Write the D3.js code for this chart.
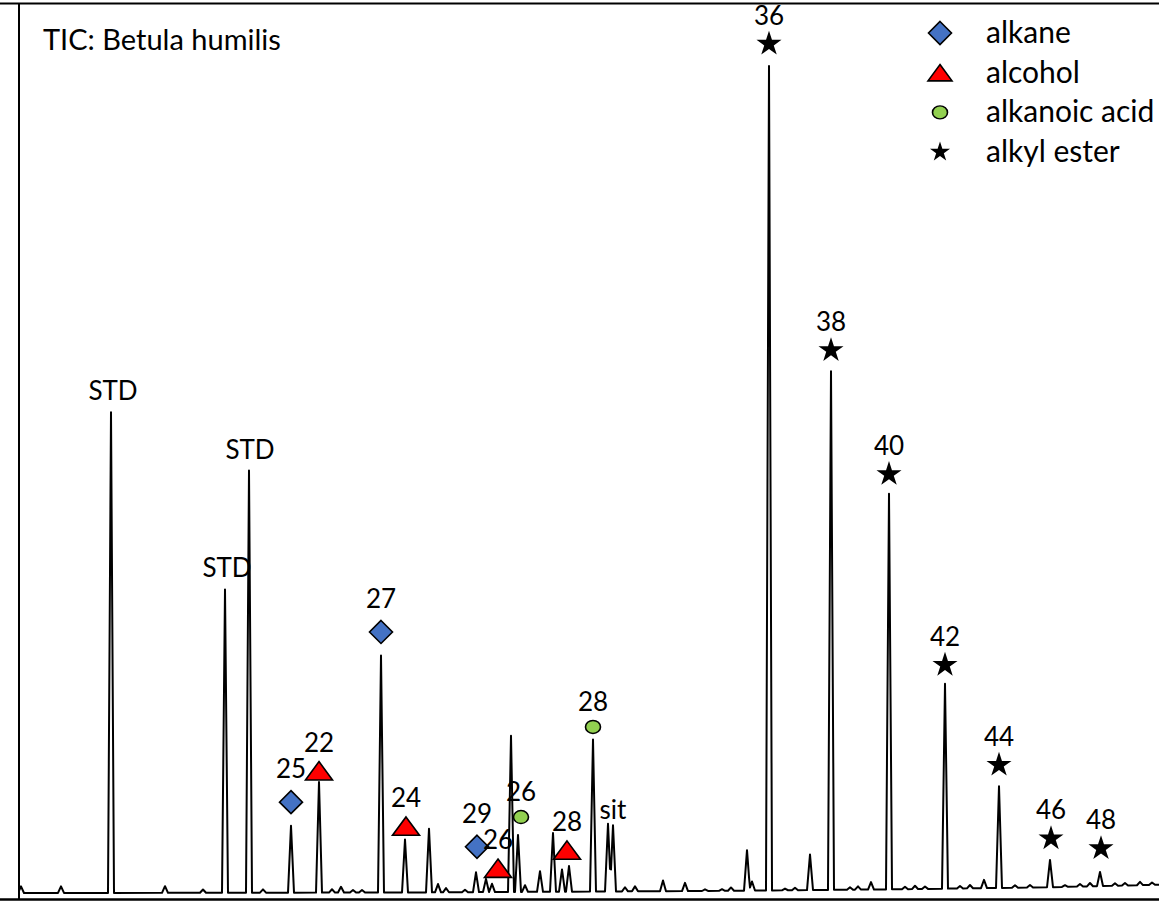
<!DOCTYPE html>
<html>
<head>
<meta charset="utf-8">
<script src="https://cdn.jsdelivr.net/npm/d3@7"></script>
<style>
  body { margin: 0; background: #fff; }
  text { font-family: Lato, "Open Sans", sans-serif; fill: #000; }
</style>
</head>
<body>
<script>
// chromatogram peaks: retention position (scan) and height (% of largest peak)
var peakPos    = [21, 61, 111, 165, 203, 225, 249, 263, 291, 319, 332, 341, 353, 362, 381, 405, 429, 438, 446, 465,
                  476, 486, 492, 511, 518, 525, 540, 553, 562, 569, 593, 608, 613, 625, 635, 663, 685, 705, 722, 731,
                  747, 752, 769, 785, 795, 810, 831, 850, 858, 871, 889, 905, 915, 925, 945, 960, 970, 984, 999, 1015,
                  1030, 1050, 1065, 1080, 1090, 1100, 1115, 1125, 1140, 1152];
var peakHeight = [0.8, 0.8, 58.2, 0.8, 0.4, 36.7, 51.1, 0.4, 8.1, 13.4, 0.4, 0.7, 0.3, 0.3, 28.7, 6.4, 7.7, 1.0, 0.5, 0.3,
                  2.4, 1.6, 1.0, 18.9, 6.9, 0.8, 2.5, 7.1, 2.7, 3.1, 18.4, 8.2, 8.0, 0.5, 0.6, 1.3, 1.0, 0.2, 0.2, 0.4,
                  4.9, 1.1, 99.8, 0.2, 0.3, 4.3, 62.8, 0.3, 0.4, 0.9, 47.9, 0.3, 0.4, 0.3, 24.8, 0.3, 0.4, 1.0, 12.3, 0.3,
                  0.3, 3.3, 0.2, 0.3, 0.4, 1.7, 0.3, 0.3, 0.4, 0.3];

// slow baseline drift
var baselinePos   = [19, 400, 700, 900, 1050, 1159];
var baselineLevel = [0, 0.06, 0.24, 0.45, 0.7, 1.0];

// compound annotations (marker centre in data units)
var annText  = ["36", "38", "40", "42", "44", "46", "48", "25", "27", "29", "22", "24", "26", "28", "26", "28",
                "STD", "STD", "STD", "sit"];
var annClass = ["ester", "ester", "ester", "ester", "ester", "ester", "ester", "alkane", "alkane", "alkane",
                "alcohol", "alcohol", "alcohol", "alcohol", "acid", "acid", "none", "none", "none", "none"];
var annX     = [769, 831, 889, 945, 999, 1051, 1101, 291, 381, 477, 319, 406, 498, 567, 521, 593, 113, 250, 227, 613];
var annY     = [102.8, 65.7, 50.7, 27.6, 15.5, 6.6, 5.4, 11.0, 31.6, 5.6, 14.8, 8.1, 3.0, 5.2, 9.2, 20.1,
                59.7, 52.5, 38.3, 9.0];

var legendKeys  = ["alkane", "alcohol", "acid", "ester"];
var legendNames = ["alkane", "alcohol", "alkanoic acid", "alkyl ester"];

var width = 1159;
var height = 906;
var halfWidth = 3;

var x = d3.scaleLinear().domain([0, 1159]).range([0, 1159]);
var y = d3.scaleLinear().domain([0, 100]).range([893, 67]);

var fills = {alkane: "#4472C4", alcohol: "#FF0000", acid: "#92D050", ester: "#000000"};
var labelGap = {alkane: 24, alcohol: 19, acid: 16, ester: 19, none: 0};

// marker shapes, size = width in px
var diamondType = {draw: function(ctx, s) {
    var r = s / 2;
    ctx.moveTo(0, -r); ctx.lineTo(r, 0); ctx.lineTo(0, r); ctx.lineTo(-r, 0); ctx.closePath();
}};
var triangleType = {draw: function(ctx, s) {
    var h = s * 0.68;
    ctx.moveTo(0, -h / 2); ctx.lineTo(s / 2, h / 2); ctx.lineTo(-s / 2, h / 2); ctx.closePath();
}};
var circleType = {draw: function(ctx, s) {
    ctx.moveTo(s / 2, 0); ctx.arc(0, 0, s / 2, 0, 2 * Math.PI);
}};
var starType = {draw: function(ctx, s) {
    d3.symbolStar.draw(ctx, (s / 1.9) * (s / 1.9) / 0.8908130915292852);
}};

function markerPath(cls, big) {
    if (cls == "alkane") return d3.symbol().type(diamondType).size(23)();
    if (cls == "alcohol") return d3.symbol().type(triangleType).size(big ? 27 : 24)();
    if (cls == "acid") return d3.symbol().type(circleType).size(15)();
    return d3.symbol().type(starType).size(big ? 25 : 20)();
}

function baseAt(p) {
    for (var i = 1; i < baselinePos.length; i++) {
        if (p <= baselinePos[i]) {
            var t = (p - baselinePos[i - 1]) / (baselinePos[i] - baselinePos[i - 1]);
            return baselineLevel[i - 1] + t * (baselineLevel[i] - baselineLevel[i - 1]);
        }
    }
    return baselineLevel[baselineLevel.length - 1];
}

function traceValue(p) {
    var v = baseAt(p);
    for (var i = 0; i < peakPos.length; i++) {
        var d = Math.abs(p - peakPos[i]);
        if (d < halfWidth) v += peakHeight[i] * (1 - d / halfWidth);
    }
    return v;
}

function buildTrace() {
    var pts = [19, 1159];
    baselinePos.forEach(function(p) { pts.push(p); });
    peakPos.forEach(function(p) { pts.push(p - halfWidth, p, p + halfWidth); });
    pts = Array.from(new Set(pts)).filter(function(p) { return p >= 19 && p <= 1159; });
    pts.sort(function(a, b) { return a - b; });
    return pts.map(function(p) { return [p, traceValue(p)]; });
}

window.onload = function() {
    var svg = d3.select("body").append("svg")
        .attr("width", width)
        .attr("height", height);

    // frame
    svg.append("line").attr("x1", 0).attr("x2", width).attr("y1", 3.5).attr("y2", 3.5)
        .attr("stroke", "#000").attr("stroke-width", 2.2);
    svg.append("line").attr("x1", 0).attr("x2", width).attr("y1", 899.5).attr("y2", 899.5)
        .attr("stroke", "#000").attr("stroke-width", 2.5);
    svg.append("line").attr("x1", 19).attr("x2", 19).attr("y1", 3).attr("y2", 900)
        .attr("stroke", "#000").attr("stroke-width", 2);

    // trace
    var line = d3.line()
        .x(function(d) { return x(d[0]); })
        .y(function(d) { return y(d[1]); });

    svg.append("path")
        .datum(buildTrace())
        .attr("d", line)
        .attr("fill", "none")
        .attr("stroke", "#000")
        .attr("stroke-width", 2)
        .attr("stroke-linejoin", "round");

    // annotations
    var ann = annText.map(function(t, i) {
        return {text: t, cls: annClass[i], x: annX[i], y: annY[i]};
    });

    var g = svg.append("g").attr("class", "annotations");

    g.selectAll(".marker")
        .data(ann.filter(function(d) { return d.cls != "none"; }))
        .enter().append("path")
          .attr("class", "marker")
          .attr("transform", function(d) {
              return "translate(" + x(d.x) + "," + y(d.y) + ")" + (d.cls == "acid" ? " scale(1,0.87)" : "");
          })
          .attr("d", function(d) { return markerPath(d.cls, true); })
          .attr("fill", function(d) { return fills[d.cls]; })
          .attr("stroke", "#000")
          .attr("stroke-width", function(d) { return d.cls == "ester" ? 0 : 1.6; });

    g.selectAll(".label")
        .data(ann)
        .enter().append("text")
          .attr("class", "label")
          .attr("x", function(d) { return x(d.x); })
          .attr("y", function(d) { return y(d.y) - labelGap[d.cls]; })
          .attr("text-anchor", "middle")
          .style("font-size", "26px")
          .text(function(d) { return d.text; });

    // title
    svg.append("text")
        .attr("x", 43)
        .attr("y", 50)
        .style("font-size", "29px")
        .text("TIC: Betula humilis");

    // legend
    var legend = svg.append("g").attr("transform", "translate(940,33)");
    var rows = legend.selectAll("g")
        .data(legendKeys)
        .enter().append("g")
          .attr("transform", function(d, i) { return "translate(0," + (i * 39.7) + ")"; });

    rows.append("path")
        .attr("transform", function(d) { return d == "acid" ? "scale(1,0.87)" : null; })
        .attr("d", function(d) { return markerPath(d, false); })
        .attr("fill", function(d) { return fills[d]; })
        .attr("stroke", "#000")
        .attr("stroke-width", function(d) { return d == "ester" ? 0 : 1.6; });

    rows.append("text")
        .attr("x", 46)
        .attr("y", 10)
        .style("font-size", "30px")
        .text(function(d, i) { return legendNames[i]; });
};
</script>
</body>
</html>
